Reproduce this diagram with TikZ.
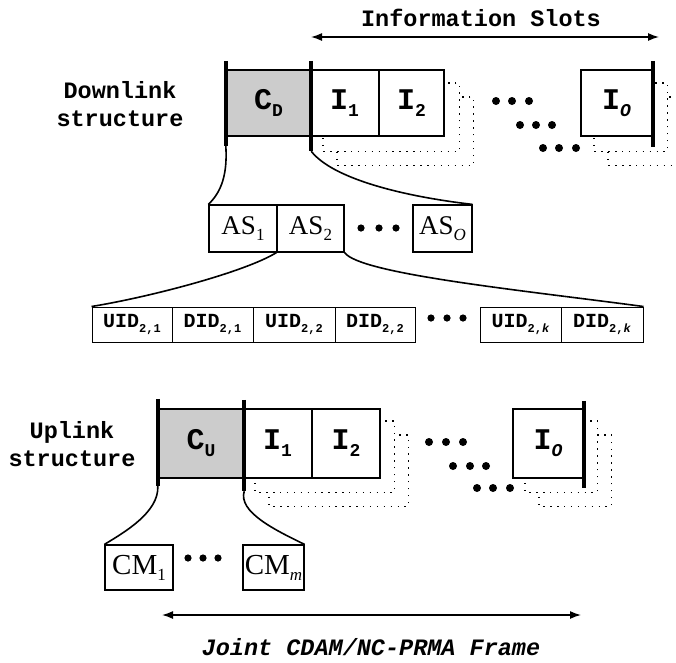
\documentclass[tikz,border=0pt]{standalone}
\usepackage{fontspec}
\setmainfont{Liberation Serif}
\setmonofont{Liberation Mono}
\usetikzlibrary{arrows.meta,backgrounds}
\newcommand\fsz[1]{\fontsize{#1}{#1}\selectfont}
\newcommand\slotlbl[2]{{\ttfamily\bfseries\fsz{30}#1\raisebox{-7pt}{\fsz{18}#2}}}
\newcommand\serlbl[3]{{\fsz{#3}#1\raisebox{-6pt}{\fsz{17}#2}}}
\newcommand\uidlbl[2]{{\ttfamily\bfseries\fsz{20}#1\raisebox{-5pt}{\fsz{12}#2}}}
\begin{document}
\begin{tikzpicture}[x=1pt,y=-1pt,
  slot/.style={draw, line width=2.4pt, fill=white, minimum height=66pt, inner sep=0pt},
  uslot/.style={slot, minimum height=69pt},
  cbox/.style={slot, fill=black!20},
  bar/.style={line width=4pt},
  shadowl/.style={line width=1.4pt, dash pattern=on 1.4pt off 5.5pt, fill=white},
  asbox/.style={draw, line width=1.2pt, fill=white, minimum height=47pt, inner sep=0pt},
  uidbox/.style={draw, line width=1pt, minimum height=35pt, inner sep=0pt},
  cmbox/.style={draw, line width=1.2pt, minimum height=45pt, inner sep=0pt},
  curve/.style={line width=1.6pt},
  head/.style={font=\fontsize{23.5}{28}\selectfont\ttfamily\bfseries, align=center, inner sep=0pt},
  span/.style={line width=1.4pt, {Latex[length=11pt,width=8pt]}-{Latex[length=11pt,width=8pt]}}
]
\useasboundingbox (0,0) rectangle (676,662);

% ---------------- Downlink ----------------
\node[head] (infolab) at (481,18) {Information Slots};
\coordinate (isl) at (311,37);
\coordinate (isr) at (659,37);
\draw[span] (isl) -- (isr);

\node[head] (dlab) at (120,104) {Downlink\\structure};

\node[cbox, minimum width=83pt] (CD) at (268.5,103) {\slotlbl{C}{D}};
\node[slot, minimum width=69pt] (DI1) at (344.5,103) {\slotlbl{I}{1}};
\node[slot, minimum width=65pt] (DI2) at (411.5,103) {\slotlbl{I}{2}};
\node[slot, minimum width=71pt] (DIO) at (616.5,103) {\slotlbl{I}{\itshape O}};

\begin{scope}[on background layer]
  \draw[shadowl] ([shift={(28pt,-28pt)}]DI1.north west) rectangle ([shift={(28pt,-28pt)}]DI2.south east);
  \draw[shadowl] ([shift={(14pt,-14pt)}]DI1.north west) rectangle ([shift={(14pt,-14pt)}]DI2.south east);
  \draw[shadowl] ([shift={(28pt,-28pt)}]DIO.north west) rectangle ([shift={(28pt,-28pt)}]DIO.south east);
  \draw[shadowl] ([shift={(14pt,-14pt)}]DIO.north west) rectangle ([shift={(14pt,-14pt)}]DIO.south east);
\end{scope}

\draw[bar] ([yshift=8pt]CD.north west) -- ([yshift=-9pt]CD.south west) coordinate (cdbl);
\draw[bar] ([yshift=8pt]CD.north east) -- ([yshift=-14pt]CD.south east) coordinate (cdbr);
\draw[bar] ([yshift=8pt]DIO.north east) -- ([yshift=-10pt]DIO.south east);

\foreach \x in {496,512,529} \fill (\x,101) circle (4pt);
\foreach \x in {520,536,552} \fill (\x,125) circle (4pt);
\foreach \x in {543,559,576} \fill (\x,148) circle (4pt);

% ---------------- AS row ----------------
\node[asbox, minimum width=68pt] (AS1) at (243,228.5) {\serlbl{AS}{1}{27}};
\node[asbox, minimum width=67pt] (AS2) at (310.5,228.5) {\serlbl{AS}{2}{27}};
\node[asbox, minimum width=59pt] (ASO) at (442.5,228.5) {\serlbl{AS}{\itshape O}{27}};
\foreach \x in {361,379,396} \fill (\x,228) circle (3.6pt);

\draw[curve] (cdbl) .. controls (228,180) and (218,195) .. (AS1.north west);
\draw[curve] (cdbr) .. controls (332,178) and (400,196) .. (ASO.north east);

% ---------------- UID row ----------------
\node[uidbox, minimum width=80pt] (U21) at (132,324.5) {\uidlbl{UID}{2,1}};
\node[uidbox, minimum width=81pt] (D21) at (212.5,324.5) {\uidlbl{DID}{2,1}};
\node[uidbox, minimum width=82pt] (U22) at (294,324.5) {\uidlbl{UID}{2,2}};
\node[uidbox, minimum width=80pt] (D22) at (375,324.5) {\uidlbl{DID}{2,2}};
\node[uidbox, minimum width=81pt] (U2k) at (520.5,324.5) {\uidlbl{UID}{2,\itshape k}};
\node[uidbox, minimum width=82pt] (D2k) at (602,324.5) {\uidlbl{DID}{2,\itshape k}};
\foreach \x in {431,447,463} \fill (\x,318) circle (3.6pt);

\draw[curve] (AS2.south west) .. controls (245,272) and (150,297) .. (U21.north west);
\draw[curve] (AS2.south east) .. controls (360,274) and (520,290) .. (D2k.north east);

% ---------------- Uplink ----------------
\node[head] (ulab) at (72,444.5) {Uplink\\structure};

\node[cbox, minimum width=84pt, minimum height=69pt] (CU) at (201,443.5) {\slotlbl{C}{U}};
\node[uslot, minimum width=69pt] (UI1) at (277.5,443.5) {\slotlbl{I}{1}};
\node[uslot, minimum width=68pt] (UI2) at (346,443.5) {\slotlbl{I}{2}};
\node[uslot, minimum width=70pt] (UIO) at (548,443.5) {\slotlbl{I}{\itshape O}};

\begin{scope}[on background layer]
  \draw[shadowl] ([shift={(27pt,-27pt)}]UI1.north west) rectangle ([shift={(27pt,-27pt)}]UI2.south east);
  \draw[shadowl] ([shift={(13pt,-13pt)}]UI1.north west) rectangle ([shift={(13pt,-13pt)}]UI2.south east);
  \draw[shadowl] ([shift={(27pt,-27pt)}]UIO.north west) rectangle ([shift={(27pt,-27pt)}]UIO.south east);
  \draw[shadowl] ([shift={(13pt,-13pt)}]UIO.north west) rectangle ([shift={(13pt,-13pt)}]UIO.south east);
\end{scope}

\draw[bar] ([yshift=9pt]CU.north west) -- ([yshift=-7pt]CU.south west) coordinate (cubl);
\draw[bar] ([yshift=8pt]CU.north east) -- ([yshift=-12pt]CU.south east) coordinate (cubr);
\draw[bar] ([yshift=7pt]UIO.north east) -- ([yshift=-9pt]UIO.south east);

\foreach \x in {429,446,463} \fill (\x,442) circle (4pt);
\foreach \x in {453,470,486} \fill (\x,466) circle (4pt);
\foreach \x in {477,493,510} \fill (\x,488) circle (4pt);

% ---------------- CM row ----------------
\node[cmbox, minimum width=68pt] (CM1) at (139,567.5) {\serlbl{CM}{1}{29}};
\node[cmbox, minimum width=61pt] (CMm) at (273.5,567.5) {\serlbl{CM}{\itshape m}{29}};
\foreach \x in {188,203,218} \fill (\x,558) circle (3.6pt);

\draw[curve] (cubl) .. controls (159,512) and (125,532) .. (CM1.north west);
\draw[curve] (cubr) .. controls (238,512) and (275,530) .. (CMm.north east);

% ---------------- Frame ----------------
\coordinate (fl) at (162,615);
\coordinate (fr) at (581,615);
\draw[span] (fl) -- (fr);
\node[head, font=\fontsize{23.5}{28}\selectfont\ttfamily\bfseries\itshape] (framelab) at (371,647) {Joint CDAM/NC-PRMA Frame};
\end{tikzpicture}
\end{document}
